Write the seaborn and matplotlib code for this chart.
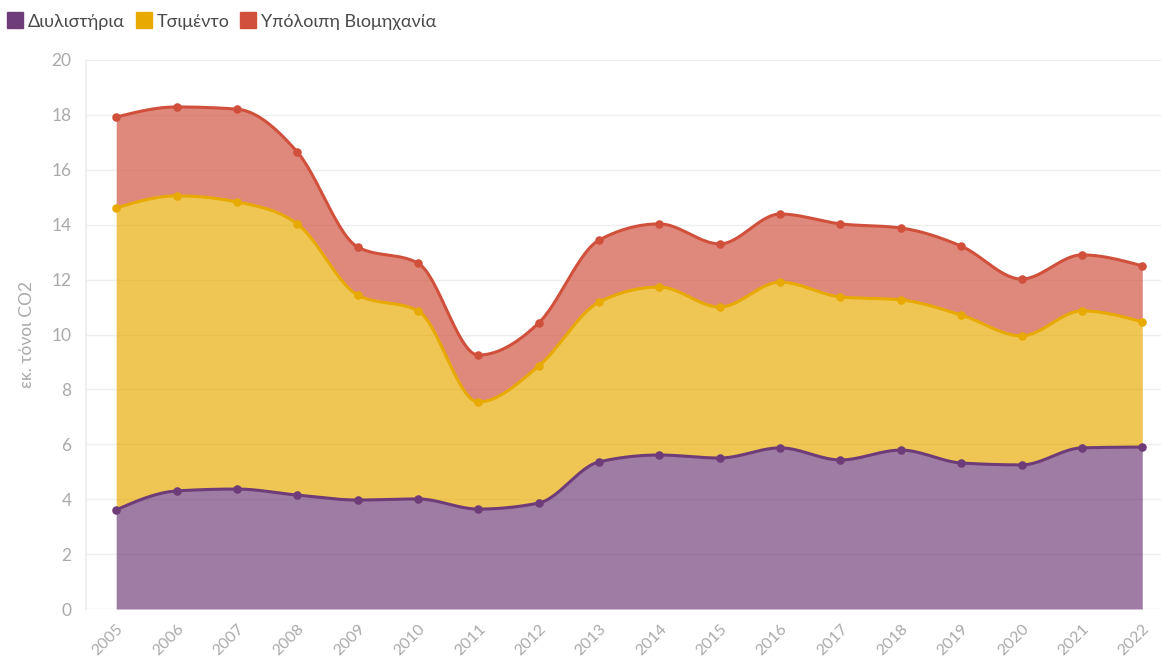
import numpy as np
import pandas as pd
import matplotlib
matplotlib.use("Agg")
import matplotlib.pyplot as plt
import seaborn as sns
from matplotlib.lines import Line2D

# values (million tonnes CO2)
years = list(range(2005, 2023))
refineries = [3.61, 4.30, 4.37, 4.15, 3.97, 4.01, 3.64, 3.86, 5.36, 5.61,
              5.50, 5.87, 5.43, 5.79, 5.32, 5.25, 5.87, 5.90]
cement = [11.00, 10.75, 10.46, 9.88, 7.47, 6.85, 3.90, 4.99, 5.82, 6.12,
          5.50, 6.04, 5.94, 5.47, 5.39, 4.70, 4.99, 4.56]
other = [3.31, 3.24, 3.38, 2.62, 1.75, 1.74, 1.71, 1.57, 2.26, 2.30,
         2.30, 2.48, 2.66, 2.62, 2.51, 2.07, 2.04, 2.04]

labels = ["Διυλιστήρια", "Τσιμέντο", "Υπόλοιπη Βιομηχανία"]
line_colors = ["#6e3c78", "#e8aa00", "#d0503c"]

df = pd.DataFrame({"year": years, labels[0]: refineries,
                   labels[1]: cement, labels[2]: other})


def monotone_x(x, y, n=30):
    # d3-style monotone cubic curve between the points
    x = np.asarray(x, float)
    y = np.asarray(y, float)
    h = np.diff(x)
    s = np.diff(y) / h
    m = np.zeros_like(y)
    for i in range(1, len(y) - 1):
        if s[i - 1] * s[i] <= 0:
            m[i] = 0
        else:
            p = (s[i - 1] * h[i] + s[i] * h[i - 1]) / (h[i - 1] + h[i])
            m[i] = (np.sign(s[i - 1]) + np.sign(s[i])) * min(abs(s[i - 1]), abs(s[i]), 0.5 * abs(p))
    m[0] = (3 * s[0] - m[1]) / 2 if len(y) > 2 else s[0]
    m[-1] = (3 * s[-1] - m[-2]) / 2
    xs, ys = [], []
    for i in range(len(x) - 1):
        t = np.linspace(0, 1, n, endpoint=False)
        h00 = 2 * t**3 - 3 * t**2 + 1
        h10 = t**3 - 2 * t**2 + t
        h01 = -2 * t**3 + 3 * t**2
        h11 = t**3 - t**2
        xs.append(x[i] + t * h[i])
        ys.append(h00 * y[i] + h10 * h[i] * m[i] + h01 * y[i + 1] + h11 * h[i] * m[i + 1])
    xs.append([x[-1]])
    ys.append([y[-1]])
    return np.concatenate(xs), np.concatenate(ys)


sns.set_theme(style="white")
plt.rcParams["font.family"] = ["Lato", "Open Sans", "DejaVu Sans"]

fig = plt.figure(figsize=(11.61, 6.6), dpi=100)
ax = fig.add_axes([86 / 1161, 1 - 609 / 660, (1161 - 86) / 1161, (609 - 60) / 660])

stack = df[labels].cumsum(axis=1)
prev_x, prev_y = monotone_x(df["year"], np.zeros(len(df)))
for lab, col in zip(labels, line_colors):
    cx, cy = monotone_x(df["year"], stack[lab])
    ax.fill_between(cx, prev_y, cy, color=col, alpha=0.67, linewidth=0, zorder=2)
    sns.lineplot(x=cx, y=cy, ax=ax, color=col, linewidth=2.2, zorder=3)
    sns.scatterplot(x=df["year"], y=stack[lab], ax=ax, color=col, s=38,
                    edgecolor=col, linewidth=0, zorder=4)
    prev_y = cy

ax.set_xlim(2004.5, 2022.31)
ax.set_ylim(0, 20)
ax.set_yticks(range(0, 21, 2))
ax.set_xticks(years)
ax.set_xticklabels([str(y) for y in years], rotation=45, ha="right",
                   rotation_mode="anchor", color="#aaaaaa", fontsize=11.5)
ax.tick_params(axis="y", colors="#aaaaaa", labelsize=12.5, length=7, color="#eeeeee", width=1)
ax.tick_params(axis="x", length=8, color="#eeeeee", width=1, pad=1)
ax.grid(axis="y", color="#eeeeee", linewidth=1, zorder=0)
for sp in ["top", "right", "bottom"]:
    ax.spines[sp].set_visible(False)
ax.spines["left"].set_color("#eeeeee")
ax.spines["left"].set_zorder(0)
ax.set_xlabel("")
ax.set_ylabel("εκ. τόνοι CO2", color="#aaaaaa", fontsize=12.5, labelpad=12)

handles = [Line2D([], [], marker="s", linestyle="", markersize=11,
                  markerfacecolor=c, markeredgecolor=c) for c in line_colors]
fig.legend(handles, labels, loc="upper left", bbox_to_anchor=(0.0, 0.993), ncol=3,
           frameon=False, fontsize=13, handlelength=0.7, handletextpad=0.35,
           columnspacing=0.7, labelcolor="#4a4a4a", borderaxespad=0.3,
           borderpad=0.2)

fig.savefig("out.png", dpi=100)
